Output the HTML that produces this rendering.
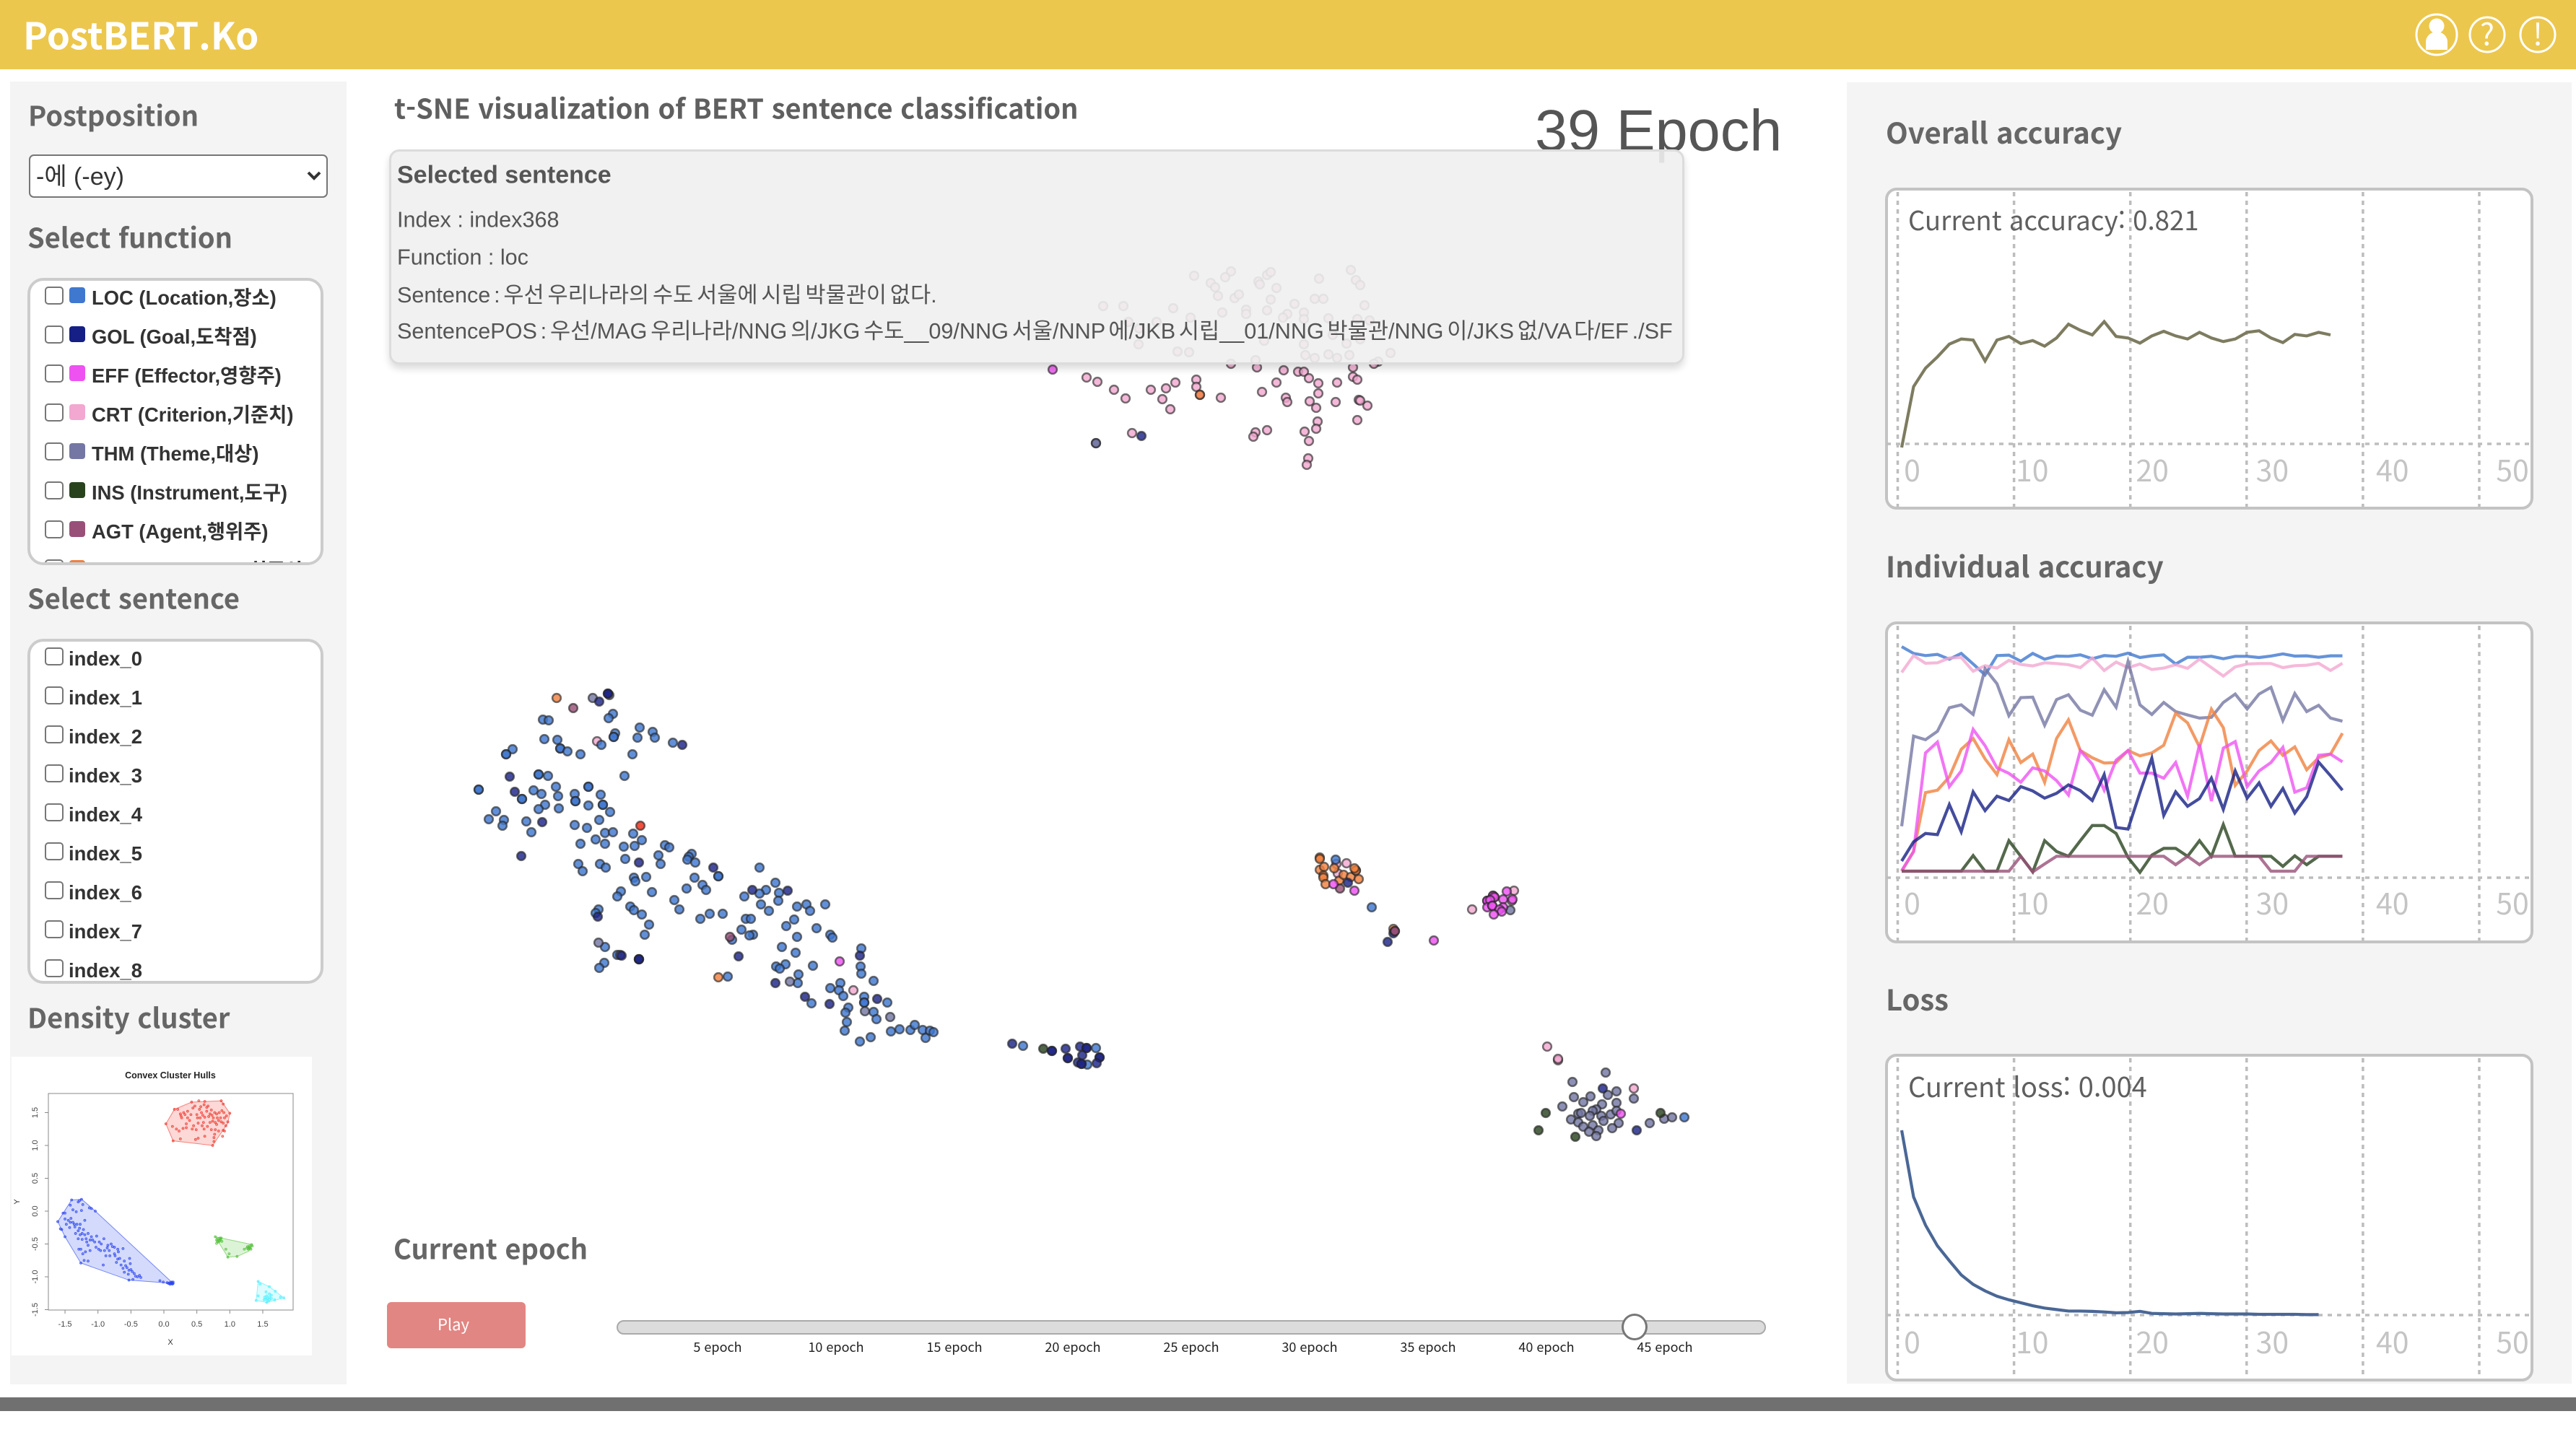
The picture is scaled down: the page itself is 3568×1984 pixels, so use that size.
<!DOCTYPE html>
<html lang="ko">
<head>
<meta charset="utf-8">
<title>PostBERT.Ko</title>
<style>
html,body{margin:0;padding:0;background:#fff;}
#page{position:relative;width:3568px;height:1984px;overflow:hidden;background:#fff;font-family:"Noto Sans CJK KR","Liberation Sans",sans-serif;color:#5f5f5f;}
.a{position:absolute;white-space:nowrap;}
.m{transform:translateY(-50%);}
.h{font-size:38px;font-weight:700;color:#666;}
.list{position:absolute;left:38px;width:402px;background:#fff;border:4px solid #ccc;border-radius:22px;overflow:hidden;}
.cb{position:absolute;left:20px;width:26px;height:25px;margin:0;appearance:none;-webkit-appearance:none;background:#fff;border:2px solid #767676;border-radius:5px;box-sizing:border-box;}
.sw{position:absolute;left:54px;width:22px;height:22px;border-radius:4px;}
.t{position:absolute;white-space:nowrap;font-family:"Liberation Sans","Noto Sans CJK KR",sans-serif;font-weight:700;font-size:27.4px;color:#333;transform:translateY(-50%);}
.sel{font-family:"Liberation Sans","Noto Sans CJK KR",sans-serif;font-size:30.6px;word-spacing:-3.7px;color:#555;left:550px;}
.tick{font-size:18px;color:#222;transform:translate(-50%,-50%);}
svg text{font-family:"Noto Sans CJK KR","Liberation Sans",sans-serif;}
</style>
</head>
<body>
<div id="page">
  <div class="a" style="left:0;top:0;width:3568px;height:96px;background:#ecc74d"></div>
  <div class="a m" style="left:32px;top:46px;font-size:51.3px;font-weight:700;color:#fff">PostBERT.Ko</div>
  <svg class="a" style="left:3330px;top:0" width="238" height="96">
    <g fill="none" stroke="#fff" stroke-width="3"><circle cx="45" cy="48" r="28"/><circle cx="45" cy="36" r="10.5" fill="#fff" stroke="none"/><path d="M30 69V58a15 14 0 0 1 30 0v11z" fill="#fff" stroke="none"/></g>
    <g><circle cx="115" cy="48" r="24" fill="none" stroke="#fff" stroke-width="3"/><text x="115" y="63" text-anchor="middle" font-size="42" fill="#fff">?</text></g>
    <g><circle cx="185" cy="48" r="24" fill="none" stroke="#fff" stroke-width="3"/><text x="185" y="63" text-anchor="middle" font-size="42" fill="#fff">!</text></g>
  </svg>

  <div class="a" style="left:14px;top:113px;width:466px;height:1805px;background:#f4f4f4"></div>
  <div class="a" style="left:2558px;top:114px;width:1004px;height:1803px;background:#f4f4f4"></div>
  <div class="a" style="left:0;top:1936px;width:3568px;height:19px;background:#707070"></div>

  <div class="a m h" style="left:39px;top:158px">Postposition</div>
  <select class="a" style="left:40px;top:214px;width:414px;height:60px;box-sizing:border-box;padding:1px 0 0 8px;font:34px 'Liberation Sans','Noto Sans CJK KR',sans-serif;color:#333;background:#fff;border:2px solid #767676;border-radius:7px;appearance:none;-webkit-appearance:none"><option>-에 (-ey)</option></select>
  <svg class="a" style="left:424px;top:236px" width="22" height="16"><path d="M3 3l8 8 8-8" fill="none" stroke="#333" stroke-width="4"/></svg>

  <div class="a m h" style="left:38px;top:327px">Select function</div>
  <div class="list" style="top:385px;height:390px">
    <input type="checkbox" class="cb" style="top:8px"><div class="sw" style="top:9px;background:#3f78cf"></div><div class="t" style="left:85px;top:21px">LOC (Location,장소)</div>
    <input type="checkbox" class="cb" style="top:62px"><div class="sw" style="top:63px;background:#151f85"></div><div class="t" style="left:85px;top:75px">GOL (Goal,도착점)</div>
    <input type="checkbox" class="cb" style="top:116px"><div class="sw" style="top:117px;background:#ee52f1"></div><div class="t" style="left:85px;top:129px">EFF (Effector,영향주)</div>
    <input type="checkbox" class="cb" style="top:170px"><div class="sw" style="top:171px;background:#f2a8d0"></div><div class="t" style="left:85px;top:183px">CRT (Criterion,기준치)</div>
    <input type="checkbox" class="cb" style="top:224px"><div class="sw" style="top:225px;background:#7477a3"></div><div class="t" style="left:85px;top:237px">THM (Theme,대상)</div>
    <input type="checkbox" class="cb" style="top:278px"><div class="sw" style="top:279px;background:#29431f"></div><div class="t" style="left:85px;top:291px">INS (Instrument,도구)</div>
    <input type="checkbox" class="cb" style="top:332px"><div class="sw" style="top:333px;background:#995078"></div><div class="t" style="left:85px;top:345px">AGT (Agent,행위주)</div>
    <input type="checkbox" class="cb" style="top:386px"><div class="sw" style="top:387px;background:#f0813f"></div><div class="t" style="left:85px;top:399px">FNS (Final State,최종상태)</div>
  </div>

  <div class="a m h" style="left:38px;top:827px">Select sentence</div>
  <div class="list" style="top:885px;height:470px">
    <input type="checkbox" class="cb" style="top:8px"><div class="t" style="left:53px;top:24px">index_0</div>
    <input type="checkbox" class="cb" style="top:62px"><div class="t" style="left:53px;top:78px">index_1</div>
    <input type="checkbox" class="cb" style="top:116px"><div class="t" style="left:53px;top:132px">index_2</div>
    <input type="checkbox" class="cb" style="top:170px"><div class="t" style="left:53px;top:186px">index_3</div>
    <input type="checkbox" class="cb" style="top:224px"><div class="t" style="left:53px;top:240px">index_4</div>
    <input type="checkbox" class="cb" style="top:278px"><div class="t" style="left:53px;top:294px">index_5</div>
    <input type="checkbox" class="cb" style="top:332px"><div class="t" style="left:53px;top:348px">index_6</div>
    <input type="checkbox" class="cb" style="top:386px"><div class="t" style="left:53px;top:402px">index_7</div>
    <input type="checkbox" class="cb" style="top:440px"><div class="t" style="left:53px;top:456px">index_8</div>
  </div>

  <div class="a m h" style="left:38px;top:1408px">Density cluster</div>
  <svg id="density" class="a" style="left:16px;top:1464px" width="416" height="414" viewBox="16 1464 416 414"></svg>

  <div class="a m h" style="left:546px;top:148px;color:#5f5f5f">t-SNE visualization of BERT sentence classification</div>
  <div class="a m" style="left:2126px;top:182px;font:81px 'Liberation Sans',sans-serif;color:#555">39 Epoch</div>
  <svg id="scatter" class="a" style="left:0;top:0" width="3568" height="1984"></svg>

  <div class="a" style="left:539px;top:207px;width:1794px;height:298px;box-sizing:border-box;background:rgba(240,240,240,.9);border:3px solid #dcdcdc;border-radius:14px;box-shadow:0 6px 10px rgba(0,0,0,.14)"></div>
  <div class="a m sel" style="top:243px;font-weight:700;font-size:34px;word-spacing:0">Selected sentence</div>
  <div class="a m sel" style="top:305px;word-spacing:0">Index : index368</div>
  <div class="a m sel" style="top:357px;word-spacing:0">Function : loc</div>
  <div class="a m sel" style="top:406px">Sentence : 우선 우리나라의 수도 서울에 시립 박물관이 없다.</div>
  <div class="a m sel" style="top:456px">SentencePOS : 우선/MAG 우리나라/NNG 의/JKG 수도__09/NNG 서울/NNP 에/JKB 시립__01/NNG 박물관/NNG 이/JKS 없/VA 다/EF ./SF</div>

  <div class="a m h" style="left:545px;top:1728px">Current epoch</div>
  <button class="a" style="left:536px;top:1804px;width:192px;height:64px;padding:0 8px 4px 0;background:#e28683;border:0;border-radius:6px;color:#fff;font:22px 'Noto Sans CJK KR',sans-serif">Play</button>
  <div class="a" style="left:854px;top:1829px;width:1592px;height:20px;box-sizing:border-box;background:#dcdcdc;border:2.5px solid #aaa;border-radius:10px"></div>
  <div class="a" style="left:2246px;top:1820px;width:36px;height:37px;box-sizing:border-box;background:#fff;border:3px solid #777;border-radius:50%"></div>
  <div class="a tick" style="left:994px;top:1866px">5 epoch</div>
  <div class="a tick" style="left:1158px;top:1866px">10 epoch</div>
  <div class="a tick" style="left:1322px;top:1866px">15 epoch</div>
  <div class="a tick" style="left:1486px;top:1866px">20 epoch</div>
  <div class="a tick" style="left:1650px;top:1866px">25 epoch</div>
  <div class="a tick" style="left:1814px;top:1866px">30 epoch</div>
  <div class="a tick" style="left:1978px;top:1866px">35 epoch</div>
  <div class="a tick" style="left:2142px;top:1866px">40 epoch</div>
  <div class="a tick" style="left:2306px;top:1866px">45 epoch</div>

  <div class="a m h" style="left:2612px;top:182px;font-size:40px">Overall accuracy</div>
  <div class="a m h" style="left:2612px;top:783px;font-size:40px">Individual accuracy</div>
  <div class="a m h" style="left:2612px;top:1383px;font-size:40px">Loss</div>
  <svg id="charts" class="a" style="left:0;top:0" width="3568" height="1984"></svg>
</div>

<script>
/* ---------- t-SNE embedding values, by function class ---------- */
const pointsLOC=[[7.52,9.97],[7.60,9.98],[8.49,9.89],[8.43,9.95],[8.86,10.08],[9.04,10.14],[9.07,10.22],[8.83,10.22],[8.52,10.16],[8.50,10.21],[8.50,10.21],[7.54,10.24],[7.72,10.25],[7.76,10.37],[7.76,10.37],[7.86,10.41],[8.04,10.45],[8.33,10.32],[9.32,10.29],[8.76,10.45],[7.10,10.38],[7.01,10.45],[7.01,10.45],[7.59,10.75],[7.46,10.73],[7.46,10.73],[8.65,10.75],[7.70,10.90],[7.39,10.95],[7.50,11.00],[7.73,11.03],[7.96,11.00],[7.97,11.10],[7.97,11.10],[8.15,10.90],[8.15,10.90],[8.32,11.01],[8.15,11.16],[8.35,11.15],[8.35,11.15],[8.45,11.25],[6.63,10.94],[6.63,10.94],[7.23,11.07],[7.23,11.07],[7.55,11.15],[7.46,11.21],[7.74,11.20],[6.87,11.24],[6.77,11.35],[6.98,11.36],[6.96,11.44],[7.29,11.38],[7.36,11.53],[7.96,11.43],[8.13,11.47],[8.30,11.36],[8.38,11.54],[8.49,11.53],[8.77,11.55],[8.89,11.64],[8.25,11.63],[8.38,11.69],[8.04,11.69],[8.64,11.73],[8.79,11.72],[9.21,11.71],[9.27,11.74],[9.12,11.85],[9.58,11.83],[9.54,11.87],[9.52,11.91],[9.63,11.95],[8.66,11.90],[9.15,11.97],[8.01,11.97],[8.07,12.07],[8.31,11.97],[8.39,12.02],[8.95,12.15],[8.78,12.16],[8.80,12.21],[9.62,12.16],[9.95,12.14],[9.95,12.14],[9.73,12.26],[9.78,12.33],[9.51,12.31],[10.52,12.02],[10.74,12.23],[10.61,12.33],[10.52,12.38],[10.79,12.37],[10.31,12.42],[10.78,12.48],[8.60,12.35],[8.55,12.42],[9.03,12.36],[9.34,12.47],[9.41,12.60],[8.73,12.56],[8.78,12.61],[8.89,12.67],[8.29,12.60],[8.25,12.65],[8.99,12.81],[8.93,12.95],[9.70,12.73],[9.83,12.66],[10.01,12.66],[10.54,12.53],[10.65,12.62],[11.04,12.56],[11.17,12.53],[11.22,12.62],[11.43,12.53],[10.33,12.73],[10.40,12.73],[11.00,12.74],[10.89,12.83],[11.31,12.86],[10.27,12.88],[10.43,12.95],[10.38,12.96],[10.14,13.02],[11.04,12.98],[11.50,12.95],[11.53,12.99],[8.38,13.12],[8.55,13.23],[8.37,13.34],[8.30,13.41],[10.83,13.12],[11.02,13.20],[11.93,13.14],[11.92,13.39],[11.93,13.49],[10.88,13.36],[10.75,13.39],[10.80,13.42],[11.26,13.38],[11.06,13.50],[11.05,13.62],[10.08,13.53],[11.64,13.62],[11.50,13.69],[11.62,13.72],[11.68,13.80],[12.10,13.59],[11.97,13.81],[11.97,13.89],[11.97,13.89],[11.24,13.90],[12.29,13.89],[11.75,13.96],[11.71,14.03],[12.10,14.02],[12.14,14.12],[11.73,14.16],[11.70,14.28],[12.34,14.29],[12.46,14.26],[12.61,14.27],[12.67,14.20],[12.78,14.27],[12.88,14.28],[12.93,14.30],[12.82,14.38],[12.06,14.37],[11.91,14.43],[18.50,11.91],[19.00,12.57],[14.17,14.49],[15.06,14.75],[15.18,14.52],[23.33,15.48]];
const pointsGOL=[[8.30,9.72],[8.42,9.61],[8.42,9.61],[9.45,10.32],[7.06,10.76],[7.13,10.97],[7.51,11.39],[7.22,11.86],[8.85,11.95],[9.88,12.02],[10.42,12.33],[10.91,12.34],[8.28,12.70],[10.23,13.25],[8.85,13.29],[8.85,13.29],[11.91,13.24],[10.74,13.62],[11.15,13.81],[11.49,13.91],[12.15,13.84],[8.61,13.24],[18.67,12.23],[19.30,12.93],[19.22,13.05],[22.20,15.08],[22.67,15.66],[14.02,14.46],[14.57,14.56],[14.57,14.56],[14.76,14.53],[14.96,14.50],[15.05,14.52],[15.05,14.52],[14.99,14.62],[14.79,14.66],[14.79,14.66],[15.23,14.65],[15.23,14.65],[14.93,14.72],[14.98,14.74],[14.98,14.74],[15.19,14.73],[15.81,6.04]];
const pointsEFF=[[14.58,5.12],[11.63,13.32],[18.47,12.25],[18.76,12.34],[19.86,13.03],[20.87,12.35],[20.68,12.41],[20.70,12.43],[20.60,12.48],[20.60,12.48],[20.64,12.47],[20.82,12.46],[20.95,12.46],[20.60,12.57],[20.67,12.55],[20.67,12.55],[20.82,12.57],[20.77,12.60],[20.80,12.63],[20.69,12.67],[22.45,15.43]];
const pointsCRT=[[15.05,5.23],[15.20,5.29],[15.43,5.40],[15.59,5.52],[15.94,5.40],[16.15,5.38],[16.28,5.30],[16.10,5.53],[16.21,5.67],[16.57,5.26],[16.57,5.36],[16.62,5.47],[16.91,5.51],[17.48,5.43],[17.68,5.30],[17.81,5.51],[17.83,5.57],[18.26,5.45],[18.14,5.56],[18.23,5.65],[18.50,5.57],[18.82,5.54],[18.94,5.62],[18.84,5.55],[18.80,5.82],[18.25,5.84],[18.23,5.94],[18.07,5.98],[18.13,6.11],[18.12,6.35],[18.10,6.44],[17.55,5.96],[17.39,5.99],[17.36,6.05],[15.68,6.00],[17.78,5.13],[17.98,5.15],[18.06,5.15],[18.13,5.24],[18.26,5.31],[18.52,5.30],[18.74,5.22],[18.80,5.26],[18.74,5.09],[16.54,3.82],[17.05,3.76],[16.97,3.84],[16.77,3.92],[16.83,3.98],[17.43,3.90],[17.55,3.81],[17.60,3.77],[17.45,3.94],[17.68,3.99],[18.27,3.86],[18.71,3.74],[18.78,3.88],[18.84,3.95],[16.87,4.10],[17.10,4.13],[17.16,4.08],[17.60,4.15],[18.21,4.14],[18.33,4.14],[17.93,4.21],[18.90,4.23],[15.28,4.24],[15.56,4.24],[16.25,4.27],[16.49,4.40],[16.93,4.33],[17.26,4.29],[17.26,4.35],[17.55,4.30],[17.83,4.35],[18.06,4.33],[18.06,4.42],[17.77,4.40],[18.40,4.41],[18.80,4.42],[18.97,4.44],[16.02,4.46],[15.63,4.46],[15.78,4.55],[15.77,4.77],[16.31,4.87],[16.47,4.88],[18.06,4.77],[18.65,4.76],[18.84,4.70],[18.08,4.92],[18.21,4.96],[18.40,4.91],[18.52,4.96],[18.69,4.92],[19.26,4.89],[19.09,5.01],[19.03,5.04],[17.05,5.04],[17.39,4.99],[17.41,5.09],[17.51,4.72],[18.46,4.64],[8.27,10.27],[11.82,13.72],[18.51,11.97],[18.65,11.96],[18.53,12.10],[20.97,12.34],[20.94,12.48],[20.39,12.60],[21.43,14.50],[21.58,14.69],[21.58,14.67],[22.63,15.08]];
const pointsTHM=[[8.21,9.67],[8.44,9.63],[8.29,13.06],[8.59,13.23],[8.85,13.29],[10.94,13.60],[11.98,14.01],[12.33,14.09],[15.18,6.14],[15.18,6.14],[20.92,12.61],[22.24,14.86],[21.78,14.99],[22.39,15.12],[22.27,15.17],[22.63,15.22],[21.80,15.20],[22.03,15.19],[21.93,15.27],[22.39,15.28],[22.19,15.30],[21.64,15.33],[22.11,15.37],[22.06,15.39],[21.86,15.43],[21.90,15.42],[22.02,15.46],[22.18,15.46],[22.31,15.44],[21.76,15.51],[21.86,15.55],[22.21,15.53],[22.42,15.56],[21.93,15.61],[22.06,15.59],[22.33,15.63],[22.01,15.68],[22.14,15.66],[22.11,15.74],[22.85,15.56],[23.05,15.50],[23.16,15.48],[22.39,15.39]];
const pointsINS=[[14.45,14.53],[21.41,15.42],[21.31,15.66],[21.82,15.75],[23.00,15.42]];
const pointsAGT=[[7.94,9.81],[10.11,12.98],[18.56,12.31],[19.32,12.90],[19.32,12.90]];
const pointsFNS=[[7.71,9.67],[9.95,13.54],[18.28,11.88],[18.28,11.90],[18.28,12.05],[18.34,12.01],[18.33,12.13],[18.33,12.16],[18.48,12.03],[18.36,12.25],[18.55,12.20],[18.61,12.12],[18.71,12.15],[18.82,12.18],[18.78,12.06],[18.78,12.06],[18.76,12.03],[19.30,12.87],[20.68,12.41],[20.70,12.43],[16.62,5.47]];
const pointsOther=[[8.87,11.44]];

/* ---------- training history, one value per epoch ---------- */
const overallAccuracy=[.601,.720,.756,.778,.803,.813,.811,.770,.811,.818,.804,.810,.799,.815,.842,.830,.821,.847,.818,.815,.805,.819,.828,.819,.813,.826,.815,.808,.813,.826,.829,.815,.806,.822,.819,.826,.821];
const accLOC=[.934,.906,.897,.902,.882,.906,.862,.817,.897,.899,.874,.906,.882,.895,.894,.900,.884,.897,.894,.907,.889,.896,.900,.862,.890,.890,.894,.884,.894,.894,.889,.895,.904,.895,.896,.890,.896,.896];
const accCRT=[.827,.897,.865,.867,.887,.889,.832,.855,.845,.877,.860,.854,.867,.864,.859,.847,.887,.835,.870,.847,.862,.839,.845,.859,.844,.882,.847,.812,.850,.862,.864,.864,.847,.855,.857,.865,.835,.865];
const accTHM=[.187,.562,.547,.582,.680,.692,.652,.842,.780,.647,.722,.724,.607,.714,.734,.670,.649,.755,.682,.872,.692,.652,.702,.664,.650,.637,.640,.702,.737,.675,.737,.765,.627,.739,.664,.690,.637,.624];
const accFNS=[0,.082,.327,.337,.392,.507,.552,.467,.402,.547,.452,.487,.370,.552,.630,.502,.472,.450,.452,.502,.480,.492,.524,.657,.617,.517,.674,.597,.357,.417,.502,.542,.482,.517,.422,.472,.487,.574];
const accEFF=[.002,.082,.492,.537,.352,.417,.590,.522,.430,.407,.370,.430,.417,.377,.317,.502,.445,.337,.462,.502,.408,.408,.387,.452,.312,.527,.292,.512,.539,.352,.417,.452,.515,.329,.347,.482,.487,.455];
const accGOL=[.042,.122,.157,.152,.277,.164,.330,.252,.312,.294,.352,.334,.304,.324,.359,.335,.294,.402,.182,.175,.327,.470,.232,.330,.270,.302,.387,.257,.417,.304,.367,.270,.344,.242,.310,.454,.397,.337];
const accINS=[0,0,0,0,0,0,.065,0,0,.127,.062,-.003,.127,.082,.062,.127,.190,.190,.157,.057,-.005,.067,.095,.095,.062,.127,.062,.194,.062,.062,.062,.062,.020,.064,.027,.062,.062,.062];
const accAGT=[0,0,0,0,0,0,0,0,0,0,.062,-.003,.030,.062,.062,.062,.062,.062,.062,.062,.062,.062,.062,.027,.062,.027,.062,.062,.062,.062,.062,0,0,0,.062,.062,.062,.062];
const lossValues=[.626,.401,.306,.236,.186,.138,.106,.084,.066,.054,.044,.034,.026,.021,.016,.016,.015,.013,.010,.011,.015,.008,.007,.006,.007,.008,.007,.006,.006,.006,.005,.005,.005,.005,.004,.004];
const epochTicks=[0,10,20,30,40,50];

/* ---------- density-cluster values ---------- */
const clusterTicks=[-1.5,-1,-.5,0,.5,1,1.5];
const hullRed=[[.03,1.33],[.16,1.55],[.42,1.66],[.87,1.68],[1.0,1.49],[.97,1.34],[.74,1.0],[.14,1.07]];
const hullBlue=[[-1.61,-.16],[-1.40,.17],[-1.245,.18],[-1.04,0],[.14,-1.10],[-.53,-1.05],[-1.26,-.79],[-1.5,-.39]];
const hullGreen=[[.78,-.39],[1.34,-.51],[1.29,-.61],[1.11,-.69],[.97,-.70]];
const hullCyan=[[1.43,-1.07],[1.6,-1.15],[1.82,-1.32],[1.56,-1.39],[1.40,-1.36]];
const densityRed=[[.03,1.33],[.16,1.55],[.21,1.55],[.42,1.66],[.53,1.68],[.62,1.67],[.87,1.68],[.9,1.63],[1.0,1.49],[.97,1.36],[.92,1.22],[.89,1.14],[.74,1.0],[.14,1.07],[.25,1.1],[.48,1.09],[.52,1.11],[.62,1.14],[.13,1.29],[.19,1.25],[.23,1.22],[.29,1.26],[.34,1.27],[.43,1.25],[.49,1.24],[.61,1.25],[.66,1.29],[.72,1.24],[.78,1.24],[.76,1.12],[.83,1.22],[.9,1.23],[.25,1.48],[.27,1.42],[.32,1.47],[.36,1.52],[.41,1.47],[.39,1.38],[.52,1.34],[.55,1.42],[.54,1.55],[.59,1.46],[.62,1.43],[.61,1.62],[.65,1.52],[.7,1.48],[.72,1.54],[.75,1.42],[.78,1.35],[.8,1.48],[.83,1.38],[.86,1.42],[.88,1.53],[.92,1.42],[.95,1.45],[.9,1.34],[.65,1.58],[.47,1.6],[.56,1.59],[.74,1.37],[.7,1.35],[.26,1.45],[.3,1.5],[.34,1.33],[.45,1.3],[.5,1.47],[.57,1.5],[.6,1.35],[.68,1.44],[.73,1.46],[.77,1.5],[.81,1.42],[.84,1.5],[.87,1.36],[.91,1.5],[.94,1.3],[.8,1.32],[.67,1.6],[.58,1.3],[.76,1.06],[.77,1.17],[.51,1.42],[.44,1.57],[.36,1.42]];
const densityBlue=[[-1.61,-.16],[-1.40,.17],[-1.25,.18],[-1.28,.16],[-1.42,.09],[-1.3,.14],[-1.23,.1],[-1.13,.05],[-1.1,.04],[-1.04,0],[-1.5,-.03],[-1.53,-.03],[-1.38,.02],[-1.33,-.01],[-1.25,.01],[-1.2,-.14],[-1.5,-.12],[-1.41,-.11],[-1.38,-.17],[-1.48,-.2],[-1.43,-.25],[-1.36,-.2],[-1.32,-.2],[-1.27,-.2],[-1.57,-.27],[-1.55,-.28],[-1.5,-.39],[-1.3,-.3],[-1.24,-.34],[-1.2,-.36],[-1.15,-.34],[-1.1,-.39],[-1.02,-.38],[-1.3,-.42],[-1.24,-.43],[-1.17,-.47],[-1.15,-.52],[-1.12,-.6],[-1.26,-.58],[-1.03,-.55],[-.98,-.47],[-.95,-.5],[-.91,-.42],[-.85,-.52],[-.8,-.5],[-.75,-.55],[-.7,-.58],[-.62,-.57],[-.96,-.6],[-.9,-.6],[-.83,-.6],[-.88,-.68],[-.82,-.68],[-.75,-.65],[-.69,-.62],[-.72,-.78],[-.67,-.72],[-.65,-.82],[-.6,-.76],[-.56,-.86],[-.52,-.72],[-.51,-.8],[-.5,-.89],[-.45,-.95],[-.6,-.93],[-.54,-.96],[-.4,-1.0],[-.35,-1.01],[-.53,-1.05],[-.47,-1.04],[-1.26,-.79],[-1.15,-.76],[-1.21,-.75],[-.92,-.82],[-.06,-1.06],[-.01,-1.08],[.05,-1.09],[.09,-1.09],[.12,-1.10],[.14,-1.08],[.1,-1.11],[.14,-1.10],[.07,-1.10],[-1.45,-.14],[-1.42,-.17],[-1.35,-.24],[-1.28,-.26],[-1.34,-.34],[-1.27,-.36],[-1.22,-.28],[-1.08,-.44],[-1.05,-.47],[-1.18,-.42],[-1.12,-.44],[-.99,-.58],[-.86,-.56],[-.78,-.54],[-.74,-.68],[-.7,-.73],[-.62,-.87],[-.58,-.83],[-.53,-.9],[-.48,-.92],[-.43,-.99],[-.37,-.98],[.11,-1.09],[.13,-1.11],[.09,-1.11],[.12,-1.08],[-1.29,-.58],[-1.23,-.65],[-1.19,-.62]];
const densityGreen=[[.78,-.39],[.8,-.44],[.82,-.42],[.85,-.45],[.87,-.41],[.83,-.47],[.88,-.46],[.8,-.49],[.85,-.41],[.94,-.58],[.97,-.70],[.99,-.65],[1.11,-.69],[1.22,-.58],[1.27,-.54],[1.29,-.55],[1.31,-.56],[1.33,-.51],[1.34,-.53],[1.28,-.58],[1.32,-.58],[.84,-.44],[.86,-.43],[.81,-.46],[1.3,-.53],[1.29,-.57],[1.26,-.56]];
const densityCyan=[[1.43,-1.07],[1.46,-1.11],[1.6,-1.15],[1.69,-1.22],[1.82,-1.32],[1.77,-1.31],[1.68,-1.35],[1.56,-1.39],[1.4,-1.36],[1.43,-1.29],[1.55,-1.23],[1.6,-1.26],[1.53,-1.31],[1.57,-1.33],[1.6,-1.31],[1.63,-1.28],[1.58,-1.37],[1.52,-1.35],[1.56,-1.29],[1.6,-1.35],[1.63,-1.33],[1.55,-1.34]];

/* ---------- scales ---------- */
function linear(d0,d1,r0,r1){return function(v){return r0+(v-d0)*(r1-r0)/(d1-d0);};}
const tsneX=linear(5,25,500,2500);
const tsneY=linear(3,16,300,1600);
const gridX=linear(0,50,2628.5,3434);
const labelX=linear(0,50,2648.5,3480);
const lineX=linear(0,37,2634,3244.5);
const accuracyY=linear(.601,.821,620,464);
const individualY=linear(0,1,1207,874);
const lossY=linear(0,.626,1823,1566);
const clusterX=linear(0,1,227,318.3);
const clusterY=linear(0,1,1678,1587);

const NS='http://www.w3.org/2000/svg';
function svgEl(parent,tag,attrs,text){
  const el=document.createElementNS(NS,tag);
  for(const k in attrs){el.setAttribute(k,attrs[k]);}
  if(text!==undefined){el.textContent=text;}
  parent.appendChild(el);
  return el;
}

/* ---------- scatter ---------- */
const scatter=document.getElementById('scatter');
function drawPoints(points,color,name){
  points.forEach(function(p){
    const dot=svgEl(scatter,'circle',{cx:tsneX(p[0]),cy:tsneY(p[1]),r:5.9,fill:color,'fill-opacity':.82,stroke:'#222','stroke-opacity':.62,'stroke-width':2.5});
    
    
  });
}
drawPoints(pointsCRT,'#f2a8d0','point-crt');
drawPoints(pointsLOC,'#3f78cf','point-loc');
drawPoints(pointsFNS,'#f0813f','point-fns');
drawPoints(pointsTHM,'#7477a3','point-thm');
drawPoints(pointsINS,'#29431f','point-ins');
drawPoints(pointsGOL,'#1d2488','point-gol');
drawPoints(pointsAGT,'#995078','point-agt');
drawPoints(pointsEFF,'#ee52f1','point-eff');
drawPoints(pointsOther,'#ee2a16','point-selected');

/* ---------- line charts ---------- */
const charts=document.getElementById('charts');
function drawFrame(id,top,bottom,baseline,labelY){
  const frame=svgEl(charts,'rect',{x:2613,y:top,width:894,height:bottom-top,rx:14,fill:'#fff',stroke:'#c3c3c3','stroke-width':4});
  
  
  const clip=svgEl(charts,'clipPath',{id:id+'-clip'});
  svgEl(clip,'rect',{x:2613,y:top,width:892,height:bottom-top});
  const layer=svgEl(charts,'g',{'clip-path':'url(#'+id+'-clip)'});
  
  
  epochTicks.forEach(function(t){
    const g=svgEl(layer,'line',{x1:gridX(t),x2:gridX(t),y1:top+4,y2:bottom-2,stroke:'#bdbdbd','stroke-width':3.5,'stroke-dasharray':'6 6'});
    
    
    const label=svgEl(layer,'text',{x:labelX(t),y:labelY+14,'font-size':41,'text-anchor':'middle',fill:'#c4c4c4'},String(t));
    
    
  });
  const base=svgEl(layer,'line',{x1:2613,x2:3507,y1:baseline,y2:baseline,stroke:'#bdbdbd','stroke-width':3.5,'stroke-dasharray':'6 7'});
  
  
}
function drawLine(values,yScale,color,opacity,name){
  const pts=values.map(function(v,i){return lineX(i)+','+yScale(v);}).join(' ');
  const line=svgEl(charts,'polyline',{points:pts,fill:'none',stroke:color,'stroke-opacity':opacity,'stroke-width':4.2,'stroke-linejoin':'miter'});
  
  
}
function drawCaption(y,size,text,name){
  const cap=svgEl(charts,'text',{x:2643,y:y+14,'font-size':size,fill:'#5f5f5f'},text);
  
  
}
drawFrame('overall',262,704,615,653);
drawLine(overallAccuracy,accuracyY,'#7d7c60',1,'overall-accuracy-line');
drawCaption(305,36.6,'Current accuracy: 0.821','overall-accuracy-caption');

drawFrame('individual',863,1305,1216,1253);
drawLine(accLOC,individualY,'#3f78cf',.8,'accuracy-line-loc');
drawLine(accCRT,individualY,'#f2a8d0',.8,'accuracy-line-crt');
drawLine(accTHM,individualY,'#7477a3',.8,'accuracy-line-thm');
drawLine(accFNS,individualY,'#f0813f',.8,'accuracy-line-fns');
drawLine(accEFF,individualY,'#ee52f1',.8,'accuracy-line-eff');
drawLine(accGOL,individualY,'#151f85',.8,'accuracy-line-gol');
drawLine(accINS,individualY,'#29431f',.8,'accuracy-line-ins');
drawLine(accAGT,individualY,'#995078',.8,'accuracy-line-agt');

drawFrame('loss',1462,1912,1822,1861);
drawLine(lossValues,lossY,'#4a6795',1,'loss-line');
drawCaption(1506,38,'Current loss: 0.004','loss-caption');

/* ---------- density cluster plot ---------- */
const density=document.getElementById('density');
svgEl(density,'rect',{x:16,y:1464,width:416,height:414,fill:'#fff'});
function drawCluster(hull,points,color,name){
  const poly=svgEl(density,'polygon',{points:hull.map(function(p){return clusterX(p[0])+','+clusterY(p[1]);}).join(' '),fill:color,'fill-opacity':.2,stroke:color,'stroke-opacity':.6,'stroke-width':1});
  
  
  points.forEach(function(p){
    const dot=svgEl(density,'circle',{cx:clusterX(p[0]),cy:clusterY(p[1]),r:1.5,fill:color,'fill-opacity':.45,stroke:color,'stroke-opacity':.85,'stroke-width':.8});
    
    
  });
}
drawCluster(hullRed,densityRed,'#ee3b30','cluster-red');
drawCluster(hullBlue,densityBlue,'#2a45ee','cluster-blue');
drawCluster(hullGreen,densityGreen,'#55c23c','cluster-green');
drawCluster(hullCyan,densityCyan,'#4fefff','cluster-cyan');
const plotBox=svgEl(density,'rect',{x:67,y:1515,width:339,height:300,fill:'none',stroke:'#888','stroke-width':1});


const plotTitle=svgEl(density,'text',{x:236,y:1494,'font-size':12.5,'font-weight':700,'text-anchor':'middle',fill:'#222',style:'font-family:Liberation Sans,sans-serif'},'Convex Cluster Hulls');


const plotXTitle=svgEl(density,'text',{x:236,y:1863,'font-size':11,'text-anchor':'middle',fill:'#333',style:'font-family:Liberation Sans,sans-serif'},'X');


const plotYTitle=svgEl(density,'text',{x:0,y:0,'font-size':11,'text-anchor':'middle',fill:'#333',transform:'translate(27,1665) rotate(-90)',style:'font-family:Liberation Sans,sans-serif'},'Y');


clusterTicks.forEach(function(t){
  const lab=t.toFixed(1);
  const xt=svgEl(density,'text',{x:clusterX(t),y:1838,'font-size':11,'text-anchor':'middle',fill:'#444',style:'font-family:Liberation Sans,sans-serif'},lab);
  
  
  svgEl(density,'line',{x1:clusterX(t),x2:clusterX(t),y1:1815,y2:1820,stroke:'#888','stroke-width':1});
  const yt=svgEl(density,'text',{x:0,y:0,'font-size':11,'text-anchor':'middle',fill:'#444',transform:'translate(52,'+clusterY(t)+') rotate(-90)',style:'font-family:Liberation Sans,sans-serif'},lab);
  
  
  svgEl(density,'line',{x1:62,x2:67,y1:clusterY(t),y2:clusterY(t),stroke:'#888','stroke-width':1});
});
</script>
</body>
</html>
